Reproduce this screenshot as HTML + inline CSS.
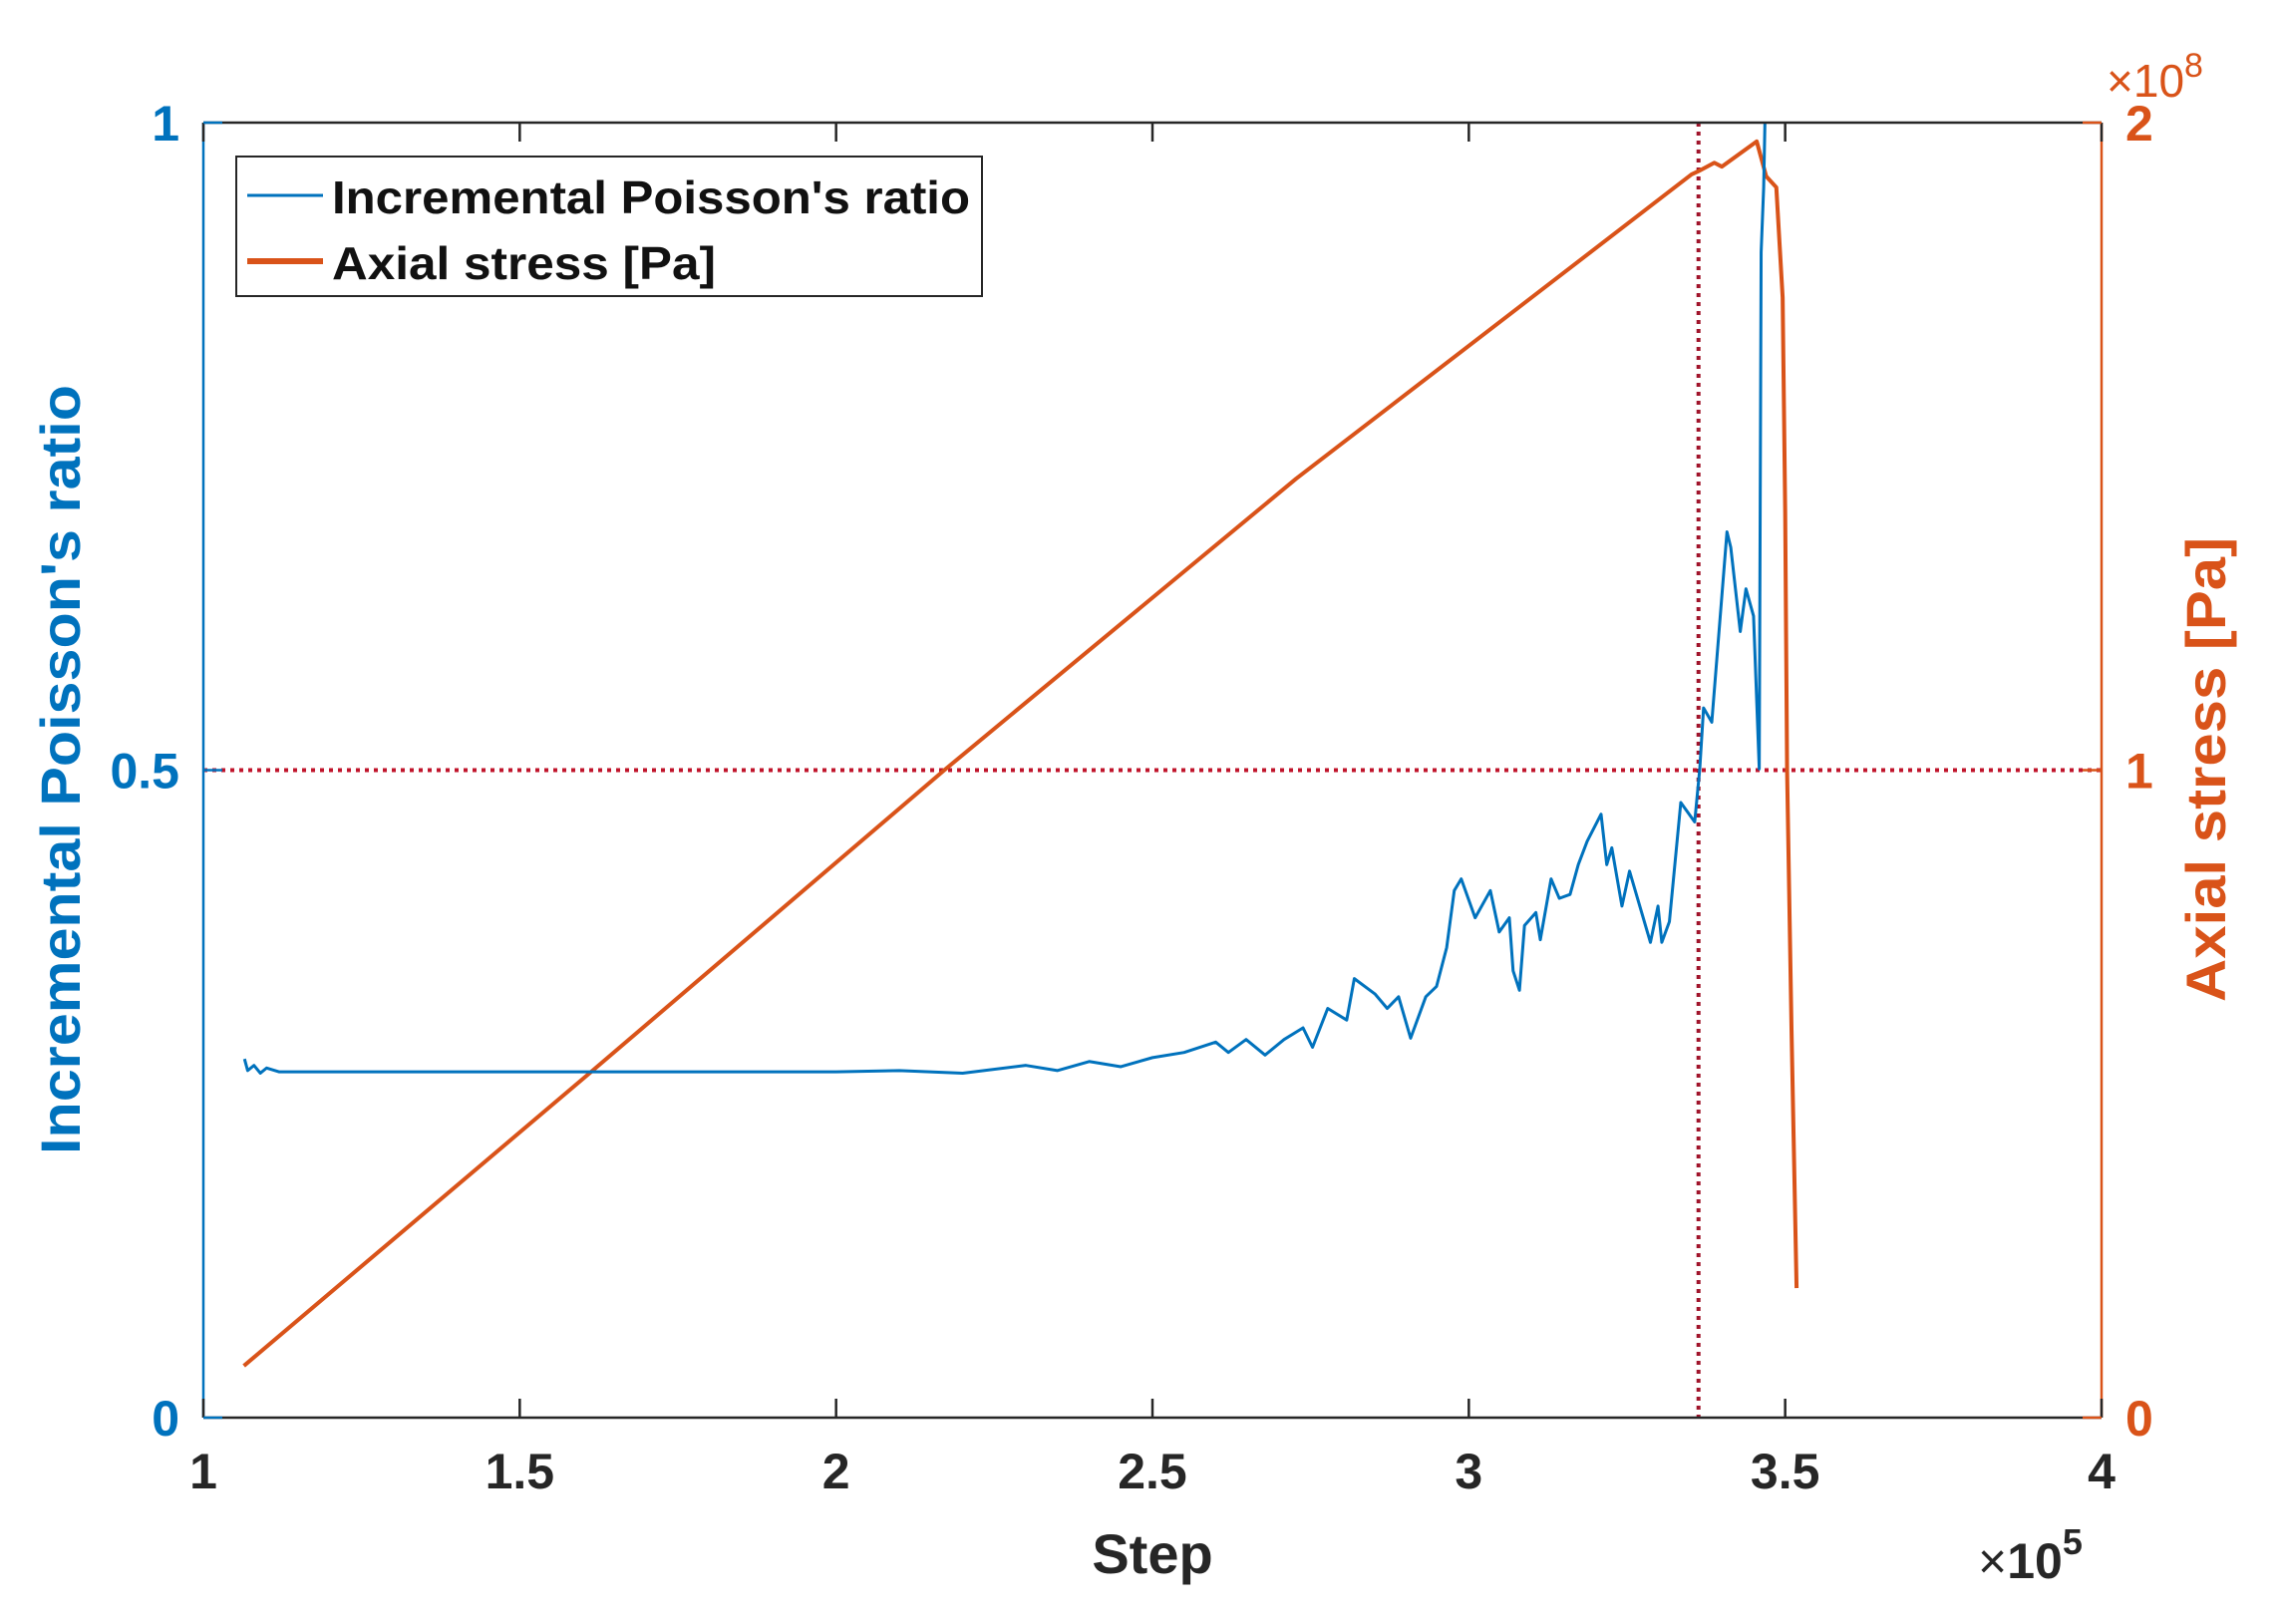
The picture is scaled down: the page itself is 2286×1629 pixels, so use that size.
<!DOCTYPE html>
<html><head><meta charset="utf-8">
<style>
html,body{margin:0;padding:0;background:#fff;}
svg{display:block;font-family:"Liberation Sans",Arial,sans-serif;font-weight:bold;}
</style></head>
<body>
<svg id="chart" width="2286" height="1629" viewBox="0 0 2286 1629">
  <g id="series"></g>
  <g id="axes"></g>
  <g>
    <rect x="237" y="157" width="748" height="140" fill="#fff" stroke="#262626" stroke-width="2"/>
    <line x1="248" y1="196" x2="324" y2="196" stroke="#0072BD" stroke-width="3"/>
    <text x="333" y="214" font-size="46" fill="#111" textLength="640" lengthAdjust="spacingAndGlyphs">Incremental Poisson's ratio</text>
    <line x1="248" y1="262" x2="324" y2="262" stroke="#D95319" stroke-width="6"/>
    <text x="333" y="280" font-size="46" fill="#111" textLength="385" lengthAdjust="spacingAndGlyphs">Axial stress [Pa]</text>
  </g>
</svg>
<script>
// ---- data ----
const xTicks = [1, 1.5, 2, 2.5, 3, 3.5, 4];
const xTickLabels = ["1", "1.5", "2", "2.5", "3", "3.5", "4"];
const leftTicks = [0, 0.5, 1];
const leftTickLabels = ["0", "0.5", "1"];
const rightTicks = [0, 1, 2];
const rightTickLabels = ["0", "1", "2"];
const refX = 3.363;
const refY = 0.5;
const poissonSteps = [1.065,1.07,1.08,1.09,1.10,1.12,1.5,2.0,2.1,2.2,2.3,2.35,2.4,2.45,2.5,2.55,2.6,2.62,
 2.648,2.678,2.708,2.738,2.753,2.777,2.807,2.819,2.852,2.871,2.889,2.908,2.932,2.949,2.965,2.977,2.988,3.010,3.034,3.048,3.064,3.070,3.080,3.088,3.106,3.113,3.130,3.143,3.160,3.173,3.187,3.209,3.218,3.226,3.242,3.254,3.287,3.299,3.305,3.317,3.335,3.357,3.365,3.371,3.384,3.408,3.414,3.429,3.438,3.450,3.459,3.462,3.466,3.470];
const poissonValues = [0.277,0.268,0.272,0.266,0.270,0.267,0.267,0.267,0.268,0.266,0.272,0.268,0.275,0.271,0.278,0.282,0.290,0.282,
 0.292,0.280,0.292,0.301,0.286,0.316,0.307,0.339,0.327,0.316,0.325,0.293,0.325,0.333,0.363,0.407,0.416,0.386,0.407,0.375,0.386,0.345,0.330,0.380,0.390,0.369,0.416,0.401,0.404,0.427,0.445,0.466,0.427,0.440,0.395,0.422,0.367,0.395,0.367,0.383,0.475,0.460,0.501,0.548,0.537,0.684,0.672,0.607,0.640,0.619,0.501,0.900,0.950,1.05];
const stressSteps = [1.064,1.608,2.171,2.727,3.352,3.363,3.388,3.400,3.455,3.470,3.486,3.496,3.500,3.503,3.510,3.518];
const stressValues = [0.08,0.53,1.0,1.45,1.92,1.925,1.938,1.932,1.971,1.917,1.90,1.73,1.4,1.0,0.6,0.2];

// ---- scales ----
const L=204, R=2108, T=123, B=1422;
const sx = v => L + (v-1)/(4-1)*(R-L);
const syL = v => B - v*(B-T);
const syR = v => B - v/2*(B-T);
const NS="http://www.w3.org/2000/svg";
function mk(tag, attrs, parent){const e=document.createElementNS(NS,tag);for(const k in attrs)e.setAttribute(k,attrs[k]);parent.appendChild(e);return e;}
const seriesG=document.getElementById('series');
const axesG=document.getElementById('axes');

const defs=mk('defs',{},seriesG);
const cp=mk('clipPath',{id:'clip'},defs);
mk('rect',{x:L,y:T,width:R-L,height:B-T},cp);

const hl=mk('line',{x1:L,x2:R,y1:syL(refY),y2:syL(refY),stroke:'#C0142B','stroke-width':4,'stroke-dasharray':'4 5'},seriesG);


const vl=mk('line',{x1:sx(refX),x2:sx(refX),y1:T,y2:B,stroke:'#A0142B','stroke-width':4,'stroke-dasharray':'4 5'},seriesG);



const sp=mk('polyline',{points:stressSteps.map((s,i)=>sx(s)+','+syR(stressValues[i])).join(' '),fill:'none',stroke:'#D95319','stroke-width':4,'stroke-linejoin':'round','clip-path':'url(#clip)'},seriesG);


const pp=mk('polyline',{points:poissonSteps.map((s,i)=>sx(s)+','+syL(poissonValues[i])).join(' '),fill:'none',stroke:'#0072BD','stroke-width':3,'stroke-linejoin':'round','clip-path':'url(#clip)'},seriesG);



const topAxis=mk('line',{x1:L,x2:R,y1:T,y2:T,stroke:'#262626','stroke-width':2.5},axesG);


const botAxis=mk('line',{x1:L,x2:R,y1:B,y2:B,stroke:'#262626','stroke-width':2.5},axesG);


const leftAxis=mk('line',{x1:L,x2:L,y1:T,y2:B,stroke:'#0072BD','stroke-width':2.5},axesG);


const rightAxis=mk('line',{x1:R,x2:R,y1:T,y2:B,stroke:'#D95319','stroke-width':2.5},axesG);



xTicks.forEach((v,i)=>{
  const x=sx(v);
  mk('line',{x1:x,x2:x,y1:B,y2:B-19,stroke:'#262626','stroke-width':2.5},axesG);
  mk('line',{x1:x,x2:x,y1:T,y2:T+19,stroke:'#262626','stroke-width':2.5},axesG);
  const t=mk('text',{x:x,y:B+71,'font-size':50,'text-anchor':'middle',fill:'#262626'},axesG);
  t.textContent=xTickLabels[i];
  
  
});
leftTicks.forEach((v,i)=>{
  const y=syL(v);
  mk('line',{x1:L,x2:L+19,y1:y,y2:y,stroke:'#0072BD','stroke-width':2.5},axesG);
  const t=mk('text',{x:L-24,y:y+18,'font-size':50,'text-anchor':'end',fill:'#0072BD'},axesG);
  t.textContent=leftTickLabels[i];
  
  
});
rightTicks.forEach((v,i)=>{
  const y=syR(v);
  mk('line',{x1:R,x2:R-19,y1:y,y2:y,stroke:'#D95319','stroke-width':2.5},axesG);
  const t=mk('text',{x:R+24,y:y+18,'font-size':50,'text-anchor':'start',fill:'#D95319'},axesG);
  t.textContent=rightTickLabels[i];
  
  
});

const ex8=mk('text',{x:2113,y:97,'font-size':46,fill:'#D95319','font-weight':'normal'},axesG);
ex8.textContent='×10';
const ex8s=mk('tspan',{dy:-20,'font-size':34},ex8);
ex8s.textContent='8';


const ex5=mk('text',{x:1984,y:1583,'font-size':50,fill:'#262626','font-weight':'normal'},axesG);
ex5.textContent='×';
const ex5a=mk('tspan',{'font-weight':'bold'},ex5);
ex5a.textContent='10';
const ex5b=mk('tspan',{dy:-24,'font-size':36,'font-weight':'bold'},ex5);
ex5b.textContent='5';



const xt=mk('text',{x:1156,y:1578,'font-size':56,'text-anchor':'middle',fill:'#262626'},axesG);
xt.textContent='Step';


const yl=mk('text',{x:0,y:0,'font-size':56,'text-anchor':'middle',fill:'#0072BD',transform:'translate(80,772) rotate(-90)',textLength:772,lengthAdjust:'spacingAndGlyphs'},axesG);
yl.textContent="Incremental Poisson's ratio";


const yr=mk('text',{x:0,y:0,'font-size':56,'text-anchor':'middle',fill:'#D95319',transform:'translate(2232,772) rotate(-90)',textLength:466,lengthAdjust:'spacingAndGlyphs'},axesG);
yr.textContent='Axial stress [Pa]';


</script>
</body></html>
